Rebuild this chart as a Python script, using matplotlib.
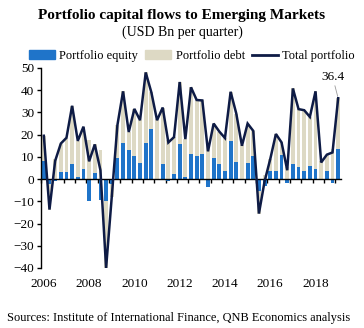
import numpy as np
import matplotlib
matplotlib.use("Agg")
import matplotlib.pyplot as plt
from matplotlib.patches import Patch
from matplotlib.lines import Line2D

# Quarterly portfolio flows, 2006Q1 - 2019Q1 (USD bn)
equity = [8.1, -2.0, -0.8, 3.3, 3.3, 7.0, 1.0, 4.4, -9.8, 2.6, -9.2, -10.0,
          -2.0, 9.6, 16.2, 13.0, 10.5, 7.1, 16.2, 22.5, -0.5, 6.8, -1.0, 2.4,
          15.7, 0.9, 11.3, 10.4, 11.3, -3.5, 9.3, 6.8, 3.6, 17.1, 7.5, -0.5,
          7.2, 10.4, -5.5, -3.0, 3.6, 3.5, 10.9, -1.6, 6.8, 5.3, 3.7, 5.9,
          4.4, -0.5, 3.8, -1.7, 13.4]
debt = [11.4, -11.7, 9.0, 12.7, 15.3, 26.0, 16.2, 19.2, 17.8, 13.0, 13.2, -30.0,
        -6.0, 14.7, 23.3, 8.2, 21.1, 19.4, 31.8, 16.5, 27.0, 25.4, 17.5, 16.5,
        28.0, 17.1, 30.0, 25.2, 24.1, 16.0, 15.7, 14.6, 14.9, 22.2, 22.0, 15.5,
        17.8, 11.3, -10.0, 2.0, 5.4, 16.8, 5.6, 5.6, 34.0, 26.2, 27.3, 22.1,
        35.1, 8.0, 7.2, 13.7, 23.0]
year_labels = ["2006", "2008", "2010", "2012", "2014", "2016", "2018"]
first_year = 2006

equity = np.array(equity)
debt = np.array(debt)
total = equity + debt
x = np.arange(len(equity))

c_equity = "#1f74c9"
c_debt = "#ddd9c4"
c_total = "#0e1b45"

plt.rcParams["font.family"] = ["Liberation Serif", "DejaVu Serif"]

fig = plt.figure(figsize=(3.64, 3.28), dpi=100)
ax = fig.add_axes([41 / 364, 1 - 268 / 328, 300 / 364, 200 / 328])

# Excel-style stacking: positives build upward, negatives downward
pos_base = np.where(equity > 0, equity, 0)
neg_base = np.where(equity < 0, equity, 0)
debt_base = np.where(debt >= 0, pos_base, neg_base)

w = 0.68
ax.bar(x, equity, width=w, color=c_equity, zorder=2)
ax.bar(x, debt, width=w, bottom=debt_base, color=c_debt, zorder=2)
ax.plot(x, total, color=c_total, lw=1.8, zorder=4, solid_joinstyle="miter")

ax.set_xlim(-0.5, len(x) - 0.5)
ax.set_ylim(-40, 50)
ax.set_yticks(np.arange(-40, 51, 10))

for s in ("top", "right"):
    ax.spines[s].set_visible(False)
ax.spines["bottom"].set_position(("data", 0))
ax.spines["bottom"].set_zorder(3)
ax.spines["left"].set_linewidth(1.0)
ax.spines["bottom"].set_linewidth(1.0)

ax.set_xticks(np.arange(-0.5, len(x) - 0.5, 2))
ax.tick_params(axis="x", direction="out", length=3, width=1, labelbottom=False)
ax.tick_params(axis="y", direction="out", length=3, width=1, labelsize=9.5, pad=2)

# Year labels sit under the plot, on the first quarter of each year
sec = ax.secondary_xaxis(location=0)
sec.set_xticks([(int(y) - first_year) * 4 for y in year_labels], year_labels)
sec.tick_params(length=0, labelsize=9.5, pad=7)
sec.spines["bottom"].set_visible(False)

ax.annotate(f"{total[-1]:.1f}", xy=(x[-1], total[-1]), xytext=(-4, 11),
            textcoords="offset points", ha="center", va="bottom", fontsize=9.5,
            arrowprops=dict(arrowstyle="-", color="#9a9a9a", lw=0.6,
                            shrinkA=0, shrinkB=1.5))

fig.text(0.5, 1 - 19 / 328, "Portfolio capital flows to Emerging Markets",
         ha="center", va="baseline", fontsize=11, fontweight="bold")
fig.text(0.5, 1 - 36 / 328, "(USD Bn per quarter)",
         ha="center", va="baseline", fontsize=10)

handles = [Patch(color=c_equity), Patch(color=c_debt),
           Line2D([], [], color=c_total, lw=2)]
fig.legend(handles, ["Portfolio equity", "Portfolio debt", "Total portfolio"],
           loc="center", bbox_to_anchor=(0.527, 1 - 56 / 328), ncol=3,
           frameon=False, fontsize=9, handlelength=2.1, handleheight=0.65,
           handletextpad=0.35, columnspacing=0.55, borderpad=0, borderaxespad=0)

fig.text(7 / 364, 1 - 321 / 328,
         "Sources: Institute of International Finance, QNB Economics analysis",
         ha="left", va="baseline", fontsize=8.9)

fig.savefig("out.png", dpi=100)
